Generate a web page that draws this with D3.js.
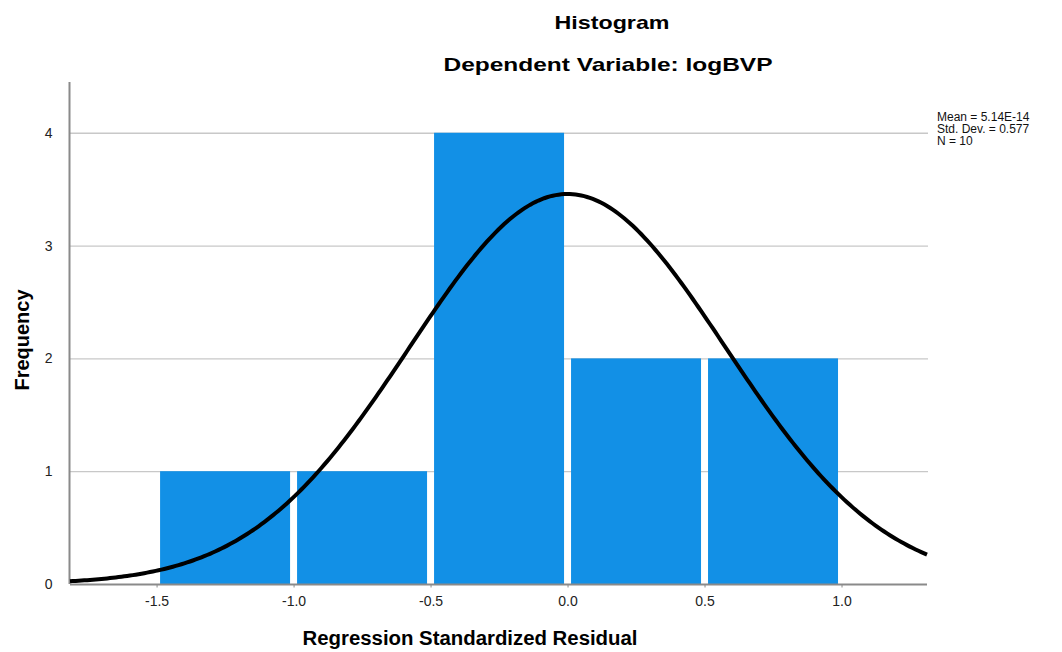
<!DOCTYPE html>
<meta charset="utf-8">
<style>
  body { margin: 0; background: #fff; }
  text { font-family: "Liberation Sans", Arial, sans-serif; }
</style>
<body>
<script src="https://d3js.org/d3.v7.min.js"></script>
<script>

var width = 1062,
    height = 652;

// histogram bins (lower edge, upper edge, count)
var binStarts = [-1.5, -1.0, -0.5, 0.0, 0.5];
var binEnds   = [-1.0, -0.5, 0.0, 0.5, 1.0];
var counts    = [1, 1, 4, 2, 2];
var xTicks = [-1.5, -1.0, -0.5, 0.0, 0.5, 1.0];
var yTicks = [0, 1, 2, 3, 4];
var stats = ["Mean = 5.14E-14", "Std. Dev. = 0.577", "N = 10"];
var mean = 5.14e-14, sd = 0.577, n = 10, binWidth = 0.5;

var plotL = 70, plotR = 927, plotT = 82, plotB = 584;

var x = d3.scaleLinear().domain([-1.816, 1.312]).range([plotL, plotR]);
var y = d3.scaleLinear().domain([0, 4.45]).range([plotB, plotT]);

var svg = d3.select("body").append("svg")
    .attr("width", width)
    .attr("height", height);

// gridlines
svg.append("g").selectAll("line")
  .data(yTicks.filter(d => d > 0))
  .enter().append("line")
    .attr("x1", plotL).attr("x2", plotR + 1)
    .attr("y1", d => y(d) + 0.5).attr("y2", d => y(d) + 0.5)
    .attr("stroke", "#c8c8c8")
    .attr("stroke-width", 1.3);

// bars
var bins = counts.map((c, i) => ({x0: binStarts[i], x1: binEnds[i], c: c}));
svg.append("g").selectAll("rect")
  .data(bins)
  .enter().append("rect")
    .attr("x", d => x(d.x0) + 3.5)
    .attr("width", d => x(d.x1) - x(d.x0) - 7)
    .attr("y", d => y(d.c))
    .attr("height", d => y(0) - y(d.c))
    .attr("fill", "#1290e6");

// axes
var fmtX = d => d3.format(".1f")(d).replace("\u2212", "-");
var xAxis = svg.append("g")
    .attr("transform", "translate(0," + (plotB + 0.5) + ")")
    .call(d3.axisBottom(x).tickValues(xTicks).tickFormat(fmtX).tickSize(3).tickPadding(9));
var yAxis = svg.append("g")
    .attr("transform", "translate(" + (plotL - 0.5) + ",0)")
    .call(d3.axisLeft(y).tickValues(yTicks).tickFormat(d3.format("d")).tickSize(0).tickPadding(8 + 9));

[xAxis, yAxis].forEach(function(g) {
  g.select(".domain").attr("stroke", "#8a8a8a").attr("stroke-width", 2);
  g.selectAll(".tick line").attr("stroke", "#8a8a8a");
  g.selectAll(".tick text").attr("fill", "#222").style("font-size", "14px")
    .style("font-family", "'Liberation Sans', Arial, sans-serif");
});
yAxis.select(".domain").attr("d", "M0," + plotT + "V" + plotB);
xAxis.select(".domain").attr("d", "M" + plotL + ",0H" + plotR);

// normal curve
var pts = d3.range(0, 301).map(i => {
  var v = x.domain()[0] + (x.domain()[1] - x.domain()[0]) * i / 300;
  var z = (v - mean) / sd;
  return [v, n * binWidth / (sd * Math.sqrt(2 * Math.PI)) * Math.exp(-0.5 * z * z)];
});
svg.append("path")
    .datum(pts)
    .attr("d", d3.line().x(d => x(d[0])).y(d => y(d[1])))
    .attr("fill", "none")
    .attr("stroke", "#000")
    .attr("stroke-width", 4);

// titles
svg.append("text")
    .attr("x", 612).attr("y", 29)
    .attr("text-anchor", "middle")
    .attr("textLength", 115).attr("lengthAdjust", "spacingAndGlyphs")
    .style("font-size", "19px").style("font-weight", "bold")
    .text("Histogram");
svg.append("text")
    .attr("x", 608).attr("y", 71)
    .attr("text-anchor", "middle")
    .attr("textLength", 329).attr("lengthAdjust", "spacingAndGlyphs")
    .style("font-size", "19px").style("font-weight", "bold")
    .text("Dependent Variable: logBVP");

svg.append("text")
    .attr("x", 470).attr("y", 645)
    .attr("text-anchor", "middle")
    .attr("textLength", 335).attr("lengthAdjust", "spacingAndGlyphs")
    .style("font-size", "20px").style("font-weight", "bold")
    .text("Regression Standardized Residual");

svg.append("text")
    .attr("transform", "translate(29,340) rotate(-90)")
    .attr("text-anchor", "middle")
    .style("font-size", "20px").style("font-weight", "bold")
    .text("Frequency");

// stats legend
svg.append("g").selectAll("text")
  .data(stats)
  .enter().append("text")
    .attr("x", 937)
    .attr("y", (d, i) => 121 + i * 12)
    .style("font-size", "12px")
    .attr("fill", "#111")
    .text(d => d);

</script>
